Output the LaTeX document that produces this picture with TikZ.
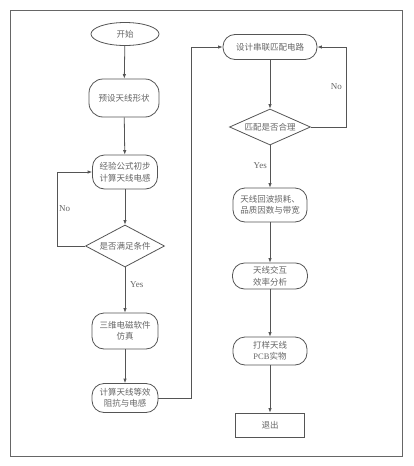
\documentclass[tikz,border=0pt]{standalone}
\usepackage{fontspec}
\setmainfont{Liberation Serif}
\newfontfamily\cjk{Noto Sans CJK SC}
\usetikzlibrary{shapes.geometric,arrows.meta}
\definecolor{lc}{HTML}{555555}
\definecolor{tc}{HTML}{666666}
\begin{document}
\begin{tikzpicture}[x=1pt,y=-1pt,
  base/.style={draw=lc, line width=0.8pt, align=center, text=tc, inner sep=0pt,
    font=\cjk\fontsize{8.5}{11.5}\selectfont},
  proc/.style={base, rounded corners=12pt},
  term/.style={base, ellipse},
  dec/.style={base, diamond},
  rect/.style={base},
  arr/.style={draw=lc, line width=0.8pt, -{Latex[length=4.5pt,width=3.5pt]}},
  lab/.style={text=tc, font=\fontsize{9}{10}\selectfont, inner sep=0pt}]
\path[use as bounding box, fill=white] (0,0) rectangle (413,466);
\draw[draw=lc!90, line width=0.9pt] (10.7,10.7) rectangle (402,456);
% left column
\node[term, minimum width=68pt, minimum height=23pt] (start) at (125,34) {开始};
\node[proc, minimum width=70pt, minimum height=38pt, rounded corners=14pt] (b1) at (124,98) {预设天线形状};
\node[proc, minimum width=65pt, minimum height=34pt] (b2) at (125,172) {经验公式初步\\计算天线电感};
\node[dec, aspect=2, minimum width=79pt, minimum height=42pt] (d1) at (125,246) {是否满足条件};
\node[proc, minimum width=66pt, minimum height=36pt] (b3) at (125,331) {三维电磁软件\\仿真};
\node[proc, minimum width=66pt, minimum height=29pt] (b4) at (125,398) {计算天线等效\\阻抗与电感};
% right column
\node[proc, minimum width=94pt, minimum height=25pt] (b5) at (270,47) {设计串联匹配电路};
\node[dec, aspect=2.25, minimum width=81pt, minimum height=36pt] (d2) at (270,127) {匹配是否合理};
\node[proc, minimum width=74pt, minimum height=34pt] (b6) at (270,205) {天线回波损耗、\\品质因数与带宽};
\node[proc, minimum width=75pt, minimum height=26pt] (b7) at (270,276) {天线交互\\效率分析};
\node[proc, minimum width=74pt, minimum height=28pt] (b8) at (270,351) {打样天线\\{\rmfamily PCB}实物};
\node[rect, minimum width=69pt, minimum height=24pt] (b9) at (270,425) {退出};
% helper coordinates
\coordinate (c1) at (57,172);
\coordinate (c2) at (191,47);
\coordinate (c3) at (346,47);
% connectors
\draw[arr] (start) -- (b1);
\draw[arr] (b1) -- (b2);
\draw[arr] (b2) -- (d1);
\draw[arr] (d1) -- (b3);
\draw[arr] (b3) -- (b4);
\draw[arr] (d1.west) -| (c1) -- (b2.west);
\draw[arr] (b4.east) -| (c2) -- (b5.west);
\draw[arr] (b5) -- (d2);
\draw[arr] (d2.east) -| (c3) -- (b5.east);
\draw[arr] (d2) -- (b6);
\draw[arr] (b6) -- (b7);
\draw[arr] (b7) -- (b8);
\draw[arr] (b8) -- (b9);
% labels
\node[lab, anchor=west] (no1) at (59,209) {No};
\node[lab, anchor=west] (yes1) at (130,285) {Yes};
\node[lab, anchor=east] (no2) at (342,87) {No};
\node[lab, anchor=east] (yes2) at (267,166) {Yes};
\end{tikzpicture}
\end{document}
